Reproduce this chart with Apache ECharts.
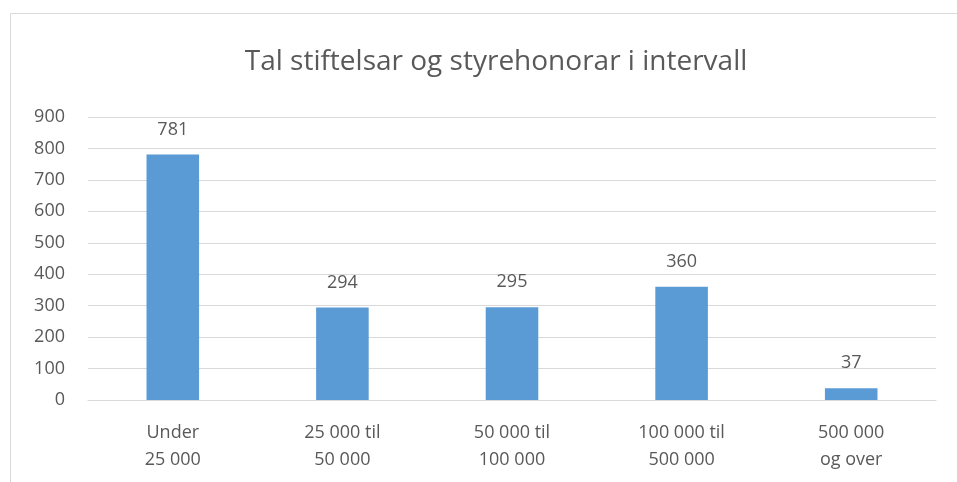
<!DOCTYPE html>
<html>
<head>
<meta charset="utf-8">
<script src="https://cdn.jsdelivr.net/npm/echarts@6/dist/echarts.min.js"></script>
<style>
  html, body { margin: 0; padding: 0; background: #fff; }
  #chart { width: 957px; height: 482px; }
</style>
</head>
<body>
<div id="chart"></div>
<script>
// categories and values
const categories = ['Under\n25 000', '25 000 til\n50 000', '50 000 til\n100 000', '100 000 til\n500 000', '500 000\nog over'];
const counts = [781, 294, 295, 360, 37];

const chart = echarts.init(document.getElementById('chart'));
const textColor = '#595959';
const font = 'Open Sans, Liberation Sans, sans-serif';

chart.setOption({
  animation: false,
  textStyle: { fontFamily: font },
  graphic: [
    // outer chart border (only left and top visible in the crop)
    { type: 'rect', shape: { x: 10.5, y: 13.5, width: 1000, height: 1000 },
      style: { fill: 'none', stroke: '#d9d9d9', lineWidth: 1 }, silent: true }
  ],
  title: {
    text: 'Tal stiftelsar og styrehonorar i intervall',
    left: 491,
    textAlign: 'center',
    top: 43,
    textStyle: { fontFamily: font, fontSize: 28, fontWeight: 'normal', color: textColor }
  },
  grid: { left: 88, right: 21, top: 117, bottom: 82, containLabel: false },
  xAxis: {
    type: 'category',
    data: categories,
    axisLine: { lineStyle: { color: '#d9d9d9', width: 1 } },
    axisTick: { show: false },
    axisLabel: { color: textColor, fontSize: 18, lineHeight: 27, margin: 19, interval: 0 }
  },
  yAxis: {
    type: 'value',
    min: 0, max: 900, interval: 100,
    axisLine: { show: false },
    axisTick: { show: false },
    axisLabel: { color: textColor, fontSize: 18, margin: 23 },
    splitLine: { lineStyle: { color: '#d9d9d9', width: 1 } }
  },
  series: [{
    type: 'bar',
    data: counts,
    barWidth: '31%',
    itemStyle: { color: '#5b9bd5' },
    label: { show: true, position: 'top', distance: 16, color: textColor, fontSize: 18 }
  }]
});
</script>
</body>
</html>
